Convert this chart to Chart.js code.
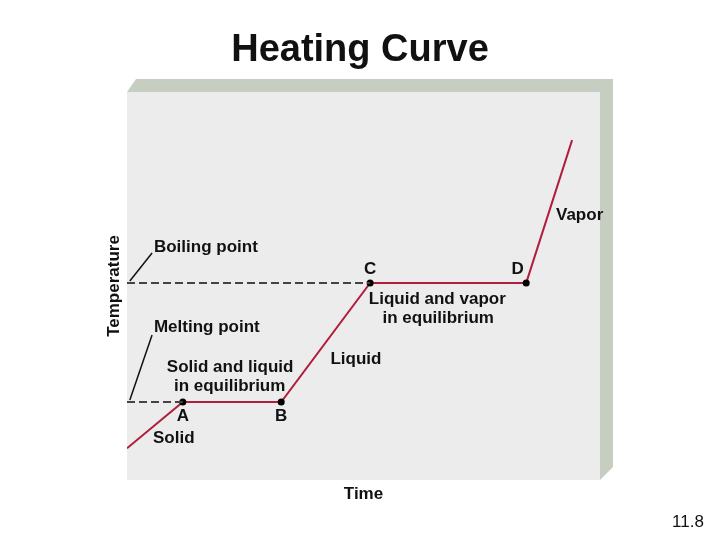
<!DOCTYPE html>
<html>
<head>
<meta charset="utf-8">
<script src="https://cdn.jsdelivr.net/npm/chart.js@4/dist/chart.umd.min.js"></script>
<style>
  html, body { margin: 0; padding: 0; background: #fff; }
  #wrap { width: 720px; height: 540px; }
</style>
</head>
<body>
<div id="wrap"><canvas id="chart" width="720" height="540"></canvas></div>
<script>
'use strict';

// heating curve (time and temperature in arbitrary units 0..100)
const tijd = [0, 11.8, 32.6, 51.4, 84.4, 94.1];
const temp = [8.2, 20.1, 20.1, 50.8, 50.8, 87.6];
const puntNamen = ['', 'A', 'B', 'C', 'D', ''];
const smeltpunt = 20.1;
const kookpunt = 50.8;

// text labels on the plot, placed in data units
const labels = [
  { t: 'Boiling point', x: 5.7, y: 60.0, align: 'left' },
  { t: 'Melting point', x: 5.7, y: 39.4, align: 'left' },
  { t: 'C', x: 51.4, y: 54.4, align: 'center' },
  { t: 'D', x: 82.6, y: 54.4, align: 'center' },
  { t: 'Liquid and vapor', x: 65.6, y: 46.6, align: 'center' },
  { t: 'in equilibrium', x: 65.8, y: 41.8, align: 'center' },
  { t: 'Vapor', x: 90.7, y: 68.1, align: 'left' },
  { t: 'Solid and liquid', x: 21.8, y: 29.1, align: 'center' },
  { t: 'in equilibrium', x: 21.7, y: 24.2, align: 'center' },
  { t: 'Liquid', x: 43.0, y: 31.0, align: 'left' },
  { t: 'A', x: 11.8, y: 16.4, align: 'center' },
  { t: 'B', x: 32.6, y: 16.4, align: 'center' },
  { t: 'Solid', x: 5.5, y: 10.8, align: 'left' }
];

const ROOD = '#b01e3c';
const FONT = '"Liberation Sans", Arial, sans-serif';

// grey 3D panel behind the plot
const paneel = {
  id: 'paneel',
  beforeDraw(chart) {
    const { ctx, chartArea: a } = chart;
    const dx = 13, dy = 13;
    ctx.save();
    ctx.fillStyle = '#ffffff';
    ctx.fillRect(0, 0, chart.width, chart.height);
    ctx.fillStyle = '#c6cec2';
    ctx.beginPath();
    ctx.moveTo(a.left, a.top);
    ctx.lineTo(a.left + 9, a.top - dy);
    ctx.lineTo(a.right + dx, a.top - dy);
    ctx.lineTo(a.right + dx, a.bottom - dy);
    ctx.lineTo(a.right, a.bottom);
    ctx.closePath();
    ctx.fill();
    ctx.fillStyle = '#ececec';
    ctx.fillRect(a.left, a.top, a.right - a.left, a.bottom - a.top);
    ctx.restore();
  }
};

// labels and slide number
const teksten = {
  id: 'teksten',
  afterDatasetsDraw(chart) {
    const { ctx, scales: { x, y } } = chart;
    ctx.save();
    ctx.fillStyle = '#111';
    ctx.font = 'bold 17px ' + FONT;
    ctx.textBaseline = 'middle';
    labels.forEach(l => {
      ctx.textAlign = l.align;
      ctx.fillText(l.t, x.getPixelForValue(l.x), y.getPixelForValue(l.y));
    });
    ctx.font = '17px ' + FONT;
    ctx.textAlign = 'center';
    ctx.fillText('11.8', 688, 522);
    ctx.restore();
  }
};

const curve = tijd.map((t, i) => ({ x: t, y: temp[i] }));

new Chart(document.getElementById('chart'), {
  type: 'line',
  plugins: [paneel, teksten],
  data: {
    datasets: [
      {
        data: [{ x: 0, y: smeltpunt }, { x: tijd[1], y: smeltpunt }],
        borderColor: '#444', borderWidth: 2, borderDash: [8, 4], pointRadius: 0
      },
      {
        data: [{ x: 0, y: kookpunt }, { x: tijd[3], y: kookpunt }],
        borderColor: '#444', borderWidth: 2, borderDash: [8, 4], pointRadius: 0
      },
      {
        data: [{ x: 0.6, y: 51.3 }, { x: 5.3, y: 58.5 }],
        borderColor: '#111', borderWidth: 1.5, pointRadius: 0
      },
      {
        data: [{ x: 0.6, y: 20.6 }, { x: 5.3, y: 37.4 }],
        borderColor: '#111', borderWidth: 1.5, pointRadius: 0
      },
      {
        data: curve,
        borderColor: ROOD, borderWidth: 2,
        pointRadius: puntNamen.map(n => n ? 3.5 : 0),
        pointBackgroundColor: '#000', pointBorderColor: '#000', pointBorderWidth: 0
      }
    ]
  },
  options: {
    responsive: false,
    animation: false,
    layout: { padding: { left: 120, right: 120, top: 20, bottom: 34 } },
    plugins: {
      legend: { display: false },
      tooltip: { enabled: false },
      title: {
        display: true,
        text: 'Heating Curve',
        color: '#111',
        font: { family: FONT, size: 38, weight: 'bold' },
        padding: { top: 8, bottom: 18.4 }
      }
    },
    scales: {
      x: {
        type: 'linear', min: 0, max: 100,
        ticks: { display: false }, grid: { display: false }, border: { display: false },
        title: { display: true, text: 'Time', color: '#111', font: { family: FONT, size: 17, weight: 'bold' }, padding: { top: 4, bottom: 1 } },
        afterFit(s) { s.height = 26; }
      },
      y: {
        min: 0, max: 100,
        ticks: { display: false }, grid: { display: false }, border: { display: false },
        title: { display: true, text: 'Temperature', color: '#111', font: { family: FONT, size: 17, weight: 'bold' }, padding: { top: -16, bottom: 0 } },
        afterFit(s) { s.width = 7; }
      }
    }
  }
});
</script>
</body>
</html>
